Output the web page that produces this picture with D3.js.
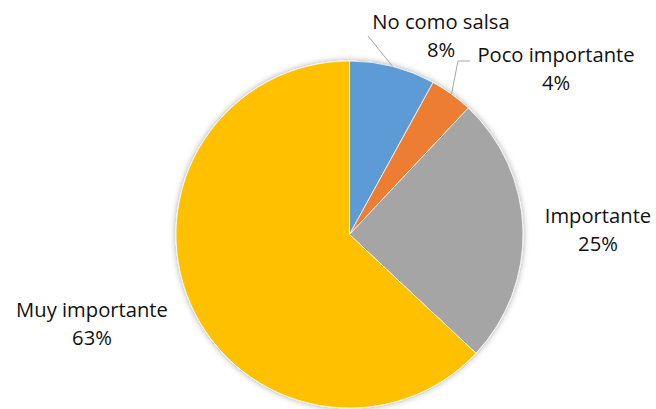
<!DOCTYPE html>
<html><head><meta charset="utf-8">
<script src="https://cdn.jsdelivr.net/npm/d3@7"></script>
<style>html,body{margin:0;padding:0;background:#fff;overflow:hidden}</style>
</head><body>
<svg id="c" width="656" height="409"></svg>
<script>
const categories = ["No como salsa", "Poco importante", "Importante", "Muy importante"];
const values = [8, 4, 25, 63];
const pctLabels = ["8%", "4%", "25%", "63%"];
const colors = ["#5B9BD5", "#ED7D31", "#A5A5A5", "#FFC000"];

const svg = d3.select("#c");
const cx = 349.5, cy = 234.5, r = 173.5;

const defs = svg.append("defs");
const f = defs.append("filter").attr("id","sh").attr("x","-20%").attr("y","-20%").attr("width","140%").attr("height","140%");
f.append("feGaussianBlur").attr("in","SourceAlpha").attr("stdDeviation",3).attr("result","b");
f.append("feComponentTransfer").attr("in","b").attr("result","b2")
  .append("feFuncA").attr("type","linear").attr("slope",0.35);
const m = f.append("feMerge");
m.append("feMergeNode").attr("in","b2");
m.append("feMergeNode").attr("in","SourceGraphic");

const pie = d3.pie().sort(null).value(d => d)(values);
const arc = d3.arc().innerRadius(0).outerRadius(r);
const color = d3.scaleOrdinal().domain(categories).range(colors);

const g = svg.append("g").attr("transform", `translate(${cx},${cy})`);
g.append("g").attr("filter","url(#sh)")
  .selectAll("path").data(pie).join("path")
  .attr("d", arc)
  .attr("fill", (d,i) => color(categories[i]))
  .attr("stroke", "#fff").attr("stroke-width", 0.75);

const labelPos = [
  {x: 441, y: 29},
  {x: 556, y: 62},
  {x: 598, y: 223},
  {x: 92, y: 317}
];
const pt = (i, rr) => {
  const a = (pie[i].startAngle + pie[i].endAngle) / 2;
  return [cx + rr * Math.sin(a), cy - rr * Math.cos(a)];
};
const leaders = [
  [[368, 36], pt(0, r)],
  [[470, 61], [458, 61], pt(1, r)]
];
svg.append("g").selectAll("path").data(leaders).join("path")
  .attr("d", d => d3.line()(d))
  .attr("fill","none").attr("stroke","#A6A6A6").attr("stroke-width",1);

const tg = svg.append("g")
  .attr("font-family", "'Open Sans', 'Noto Sans', sans-serif")
  .attr("font-size", 20.2).attr("fill", "#111").attr("text-anchor","middle");
categories.forEach((c, i) => {
  const t = tg.append("text").attr("x", labelPos[i].x).attr("y", labelPos[i].y);
  t.append("tspan").attr("x", labelPos[i].x).text(c);
  t.append("tspan").attr("x", labelPos[i].x).attr("dy", 28).text(pctLabels[i]);
});
</script>
</body></html>
